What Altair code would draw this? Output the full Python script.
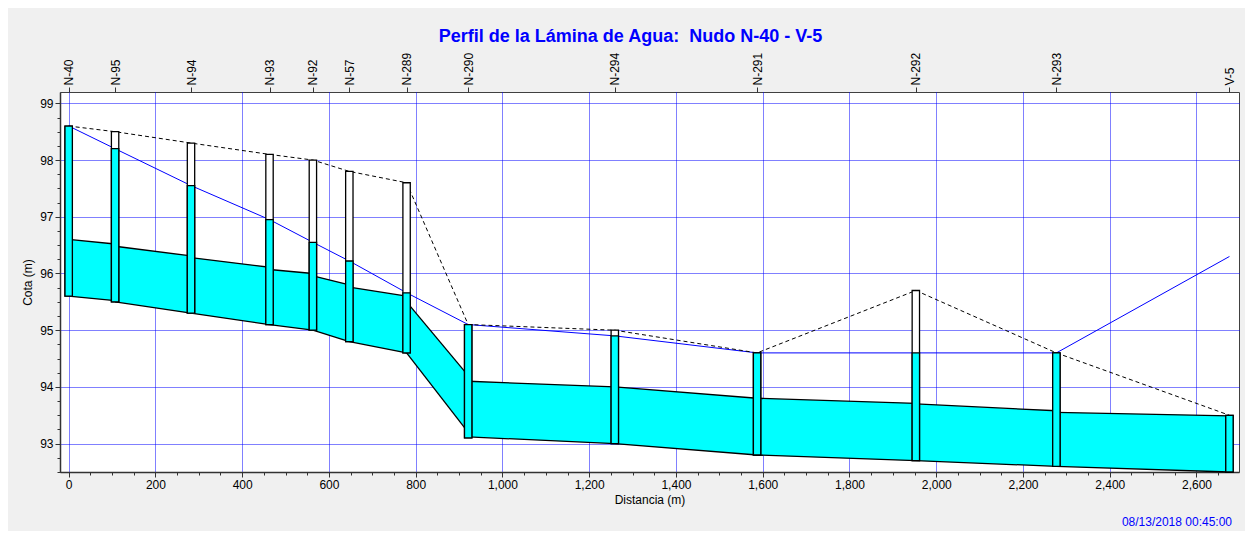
import altair as alt
import pandas as pd

# ---- data ----
nodes = ["N-40", "N-95", "N-94", "N-93", "N-92", "N-57", "N-289",
         "N-290", "N-294", "N-291", "N-292", "N-293", "V-5"]
dist = [0, 107, 282, 463, 563, 647, 779, 921, 1259, 1587, 1953, 2277, 2676]
ground = [98.6, 98.5, 98.3, 98.1, 98.0, 97.8, 97.6, 95.1, 95.0, 94.6, 95.7, 94.6, 93.5]
hgl = [98.6, 98.2, 97.55, 96.95, 96.55, 96.22, 95.66, 95.1, 94.9, 94.6, 94.6, 94.6, 96.3]
invert = [95.6, 95.5, 95.3, 95.1, 95.0, 94.8, 94.6, 93.1, 93.0, 92.8, 92.7, 92.6, 92.5]

pipe_up_bot = [95.6, 95.5, 95.3, 95.1, 95.0, 94.8, 94.6, 93.12, 93.0, 92.8, 92.7, 92.6]
pipe_up_top = [96.6, 96.48, 96.28, 96.07, 95.96, 95.76, 95.5, 94.1, 94.0, 93.8, 93.7, 93.55]
pipe_dn_bot = [95.52, 95.3, 95.1, 95.0, 94.8, 94.6, 93.2, 93.0, 92.8, 92.7, 92.6, 92.5]
pipe_dn_top = [96.52, 96.31, 96.11, 96.0, 95.8, 95.6, 94.2, 94.0, 93.8, 93.71, 93.58, 93.49]

x_ticks = list(range(0, 2700, 50))
y_ticks = [92.5 + 0.25 * k for k in range(27)]
stamp = ["08/13/2018 00:45:00"]
title_text = "Perfil de la Lámina de Agua:\u00a0 Nudo N-40 - V-5"

# ---- tables ----
HW = 8.5  # manhole half width (m)
pipe_rows = []
for i in range(len(pipe_up_bot)):
    pipe_rows.append({"seg": i, "x": dist[i], "top": pipe_up_top[i], "bot": pipe_up_bot[i]})
    pipe_rows.append({"seg": i, "x": dist[i + 1], "top": pipe_dn_top[i], "bot": pipe_dn_bot[i]})
pipes = pd.DataFrame(pipe_rows)
edges = pipes.melt(id_vars=["seg", "x"], value_vars=["top", "bot"], var_name="edge", value_name="y")
edges["key"] = edges["edge"] + edges["seg"].astype(str)

prof = pd.DataFrame({"name": nodes, "x": dist, "ground": ground, "hgl": hgl, "inv": invert})
prof["x0"] = prof["x"] - HW
prof["x1"] = prof["x"] + HW
prof["wl"] = prof[["hgl", "ground"]].min(axis=1)

FONT = "Liberation Sans"
xscale = alt.Scale(domain=[-20, 2698], nice=False, zero=False)
yscale = alt.Scale(domain=[92.5, 99.2], nice=False, zero=False)

x_axis = alt.Axis(
    values=x_ticks, title="Distancia (m)", orient="bottom",
    labelExpr="datum.value % 200 == 0 ? format(datum.value, ',') : ''",
    labelOverlap=False, labelFlush=False,
    tickSize={"condition": {"test": "datum.value % 200 == 0", "value": 5}, "value": 3},
    gridOpacity={"condition": {"test": "datum.value % 200 == 0", "value": 1}, "value": 0},
    grid=True, gridColor="#0000FF", gridDash=[1, 1], gridWidth=1,
    labelPadding=2, titlePadding=4,
)
y_axis = alt.Axis(
    values=y_ticks, title="Cota (m)", orient="left",
    labelExpr="datum.value % 1 == 0 ? format(datum.value, 'd') : ''",
    labelOverlap=False, labelFlush=False,
    tickSize={"condition": {"test": "datum.value % 1 == 0", "value": 5}, "value": 3},
    gridOpacity={"condition": {"test": "datum.value % 1 == 0", "value": 1}, "value": 0},
    grid=True, gridColor="#0000FF", gridDash=[1, 1], gridWidth=1,
    labelPadding=2, titlePadding=5,
)
label_expr = "".join(f"datum.value == {d} ? '{n}' : " for d, n in zip(dist, nodes)) + "''"
top_axis = alt.Axis(
    values=dist, orient="top", title=None, labelExpr=label_expr,
    labelAngle=-90, labelAlign="left", labelBaseline="middle",
    labelOverlap=False, labelFlush=False, grid=False, tickSize=5,
    labelPadding=2, domain=False,
)

Y = lambda f: alt.Y(f, scale=yscale, axis=y_axis, title="Cota (m)")

pipe_area = alt.Chart(pipes).mark_area(color="#00FFFF", opacity=1).encode(
    x=alt.X("x:Q", scale=xscale, axis=x_axis),
    y=Y("top:Q"),
    y2="bot:Q",
    detail="seg:N",
)
pipe_edges = alt.Chart(edges).mark_line(color="black", strokeWidth=1.3).encode(
    x=alt.X("x:Q", scale=xscale, axis=None),
    y=Y("y:Q"),
    detail="key:N",
)
hgl_line = alt.Chart(prof).mark_line(color="#0000FF", strokeWidth=1).encode(
    x=alt.X("x:Q", scale=xscale, axis=None),
    y=Y("hgl:Q"),
)
ground_line = alt.Chart(prof).mark_line(color="black", strokeWidth=1, strokeDash=[4, 3]).encode(
    x=alt.X("x:Q", scale=xscale, axis=None),
    y=Y("ground:Q"),
)
mh_white = alt.Chart(prof).mark_rect(fill="white", stroke="black", strokeWidth=1.3).encode(
    x=alt.X("x0:Q", scale=xscale, axis=top_axis),
    x2="x1:Q",
    y=Y("inv:Q"),
    y2="ground:Q",
)
mh_water = alt.Chart(prof).mark_rect(fill="#00FFFF", stroke="black", strokeWidth=1.3).encode(
    x=alt.X("x0:Q", scale=xscale, axis=None),
    x2="x1:Q",
    y=Y("inv:Q"),
    y2="wl:Q",
)
stamp_text = alt.Chart(pd.DataFrame({"t": stamp})).mark_text(
    align="right", baseline="alphabetic", color="#0000FF", font=FONT, fontSize=12
).encode(x=alt.value(1172), y=alt.value(434), text="t:N")

chart = alt.layer(
    pipe_area, pipe_edges, hgl_line, ground_line, mh_white, mh_water, stamp_text
).resolve_axis(x="independent", y="shared").properties(
    width=1179, height=380,
    autosize=alt.AutoSizeParams(type="none"),
    padding={"left": 52, "top": 84, "right": 6, "bottom": 59},
    background="#F0F0F0",
    title=alt.Title(title_text, font=FONT, fontSize=18, fontWeight="bold",
                    color="#0000FF", anchor="middle", dx=-19, offset=6),
).configure_view(fill="white", stroke="#404040", strokeWidth=1).configure_axis(
    labelFont=FONT, titleFont=FONT, labelFontSize=12, titleFontSize=12,
    labelColor="black", titleColor="black", titleFontWeight="normal",
    tickColor="#333333", domainColor="#333333", domainWidth=1.5,
)

chart.save("out.html", embed_options={"renderer": "svg", "actions": False})
